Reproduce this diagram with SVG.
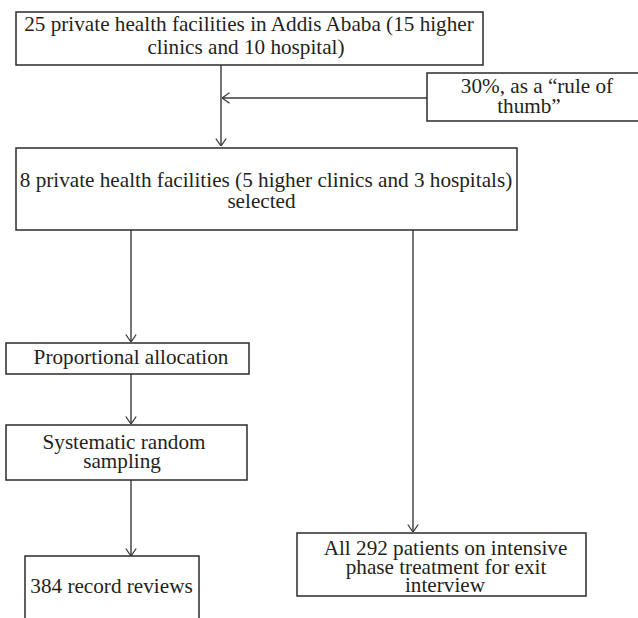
<svg xmlns="http://www.w3.org/2000/svg" width="638" height="618" viewBox="0 0 638 618">
<defs>
<style>
.box{fill:#fff;stroke:#2b2b2b;stroke-width:1.5}
.c{fill:none;stroke:#3a3a3a;stroke-width:1.4}
</style>
<marker id="arr" markerUnits="userSpaceOnUse" viewBox="0 0 8 12" refX="8" refY="6" markerWidth="8" markerHeight="12" orient="auto">
<path d="M0.5,0.8 L8,6 L0.5,11.2" fill="none" stroke="#3a3a3a" stroke-width="1.3"/>
</marker>
</defs>
<rect width="638" height="618" fill="#fff"/>
<g id="connectors">
<line class="c" x1="221" y1="65" x2="221" y2="146" marker-end="url(#arr)"/>
<line class="c" x1="427" y1="98" x2="222" y2="98" marker-end="url(#arr)"/>
<line class="c" x1="131" y1="230" x2="131" y2="342" marker-end="url(#arr)"/>
<line class="c" x1="131" y1="374" x2="131" y2="424" marker-end="url(#arr)"/>
<line class="c" x1="131" y1="480" x2="131" y2="556" marker-end="url(#arr)"/>
<line class="c" x1="413" y1="230" x2="413" y2="532" marker-end="url(#arr)"/>
</g>
<g font-family="Liberation Serif, serif" font-size="21.2" fill="#231f20" text-anchor="middle">
<g id="n1">
<rect class="box" x="16" y="12" width="467" height="53"/>
<text><tspan x="249" y="31">25 private health facilities in Addis Ababa (15 higher</tspan><tspan x="246" y="54">clinics and 10 hospital)</tspan></text>
</g>
<g id="n2">
<rect class="box" x="427" y="73" width="220" height="48"/>
<text><tspan x="537" y="93">30%, as a “rule of</tspan><tspan x="529" y="113">thumb”</tspan></text>
</g>
<g id="n3">
<rect class="box" x="16" y="148" width="501" height="82"/>
<text><tspan x="266" y="187">8 private health facilities (5 higher clinics and 3 hospitals)</tspan><tspan x="261.5" y="208">selected</tspan></text>
</g>
<g id="n4">
<rect class="box" x="6" y="343" width="243" height="31"/>
<text x="131" y="364">Proportional allocation</text>
</g>
<g id="n5">
<rect class="box" x="6" y="425" width="241" height="55"/>
<text><tspan x="124" y="449">Systematic random</tspan><tspan x="122" y="468">sampling</tspan></text>
</g>
<g id="n6">
<path class="box" d="M25,630 V556 H199 V630"/>
<text x="111.5" y="593">384 record reviews</text>
</g>
<g id="n7">
<rect class="box" x="297" y="533" width="289" height="63"/>
<text><tspan x="445.5" y="555">All 292 patients on intensive</tspan><tspan x="446" y="574">phase treatment for exit</tspan><tspan x="445" y="592">interview</tspan></text>
</g>
</g>
</svg>
